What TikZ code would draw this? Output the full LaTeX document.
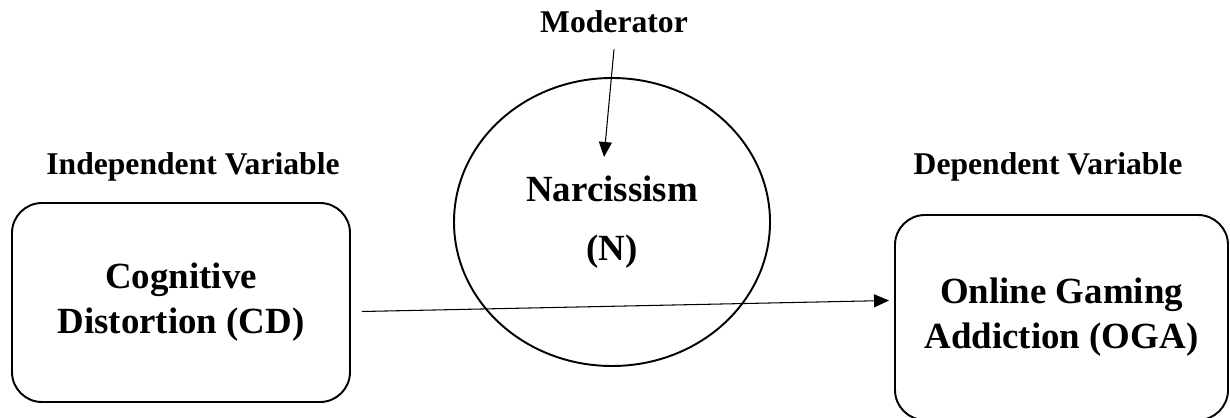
\documentclass[tikz,border=0pt]{standalone}
\usepackage{fontspec}
\setmainfont{Liberation Serif}
\usepackage{tikz}
\usetikzlibrary{shapes.geometric, arrows.meta, positioning}

\tikzset{
  varbox/.style={draw, line width=1.1pt, rounded corners=0.6cm, align=center,
    font=\fontsize{21}{25.5}\selectfont\bfseries},
  modcircle/.style={draw, ellipse, line width=1.1pt, align=center,
    minimum width=6.32cm, minimum height=5.76cm,
    font=\fontsize{21}{34}\selectfont\bfseries},
  heading/.style={font=\fontsize{18}{21}\selectfont\bfseries},
  link/.style={line width=0.6pt, -{Triangle[length=0.3cm, width=0.26cm]}}
}

\begin{document}
\begin{tikzpicture}
  \useasboundingbox (0,0) rectangle (24.6,8.34);

  % --- variables ---
  \node[varbox, minimum width=6.76cm, minimum height=3.98cm] (cd) at (3.62,2.29)
    {Cognitive\\Distortion (CD)};
  \node[varbox, minimum width=6.66cm, minimum height=4.1cm] (oga) at (21.23,1.99)
    {Online Gaming\\Addiction (OGA)};
  \node[modcircle] (narc) at (12.24,3.90) {Narcissism\\(N)};

  % --- headings ---
  \node[heading] (indep) at (3.86,5.0) {Independent Variable};
  \node[heading] (dep) at (20.96,5.0) {Dependent Variable};
  \node[heading] (mod) at (12.28,7.9) {Moderator};

  % --- arrows ---
  \coordinate (modtip) at (12.08,5.2);
  \draw[link] ([yshift=-0.2cm]mod.south) -- (modtip);
  \draw[link] ([xshift=0.22cm, yshift=-0.18cm]cd.east) -- ([xshift=-0.1cm, yshift=0.34cm]oga.west);
\end{tikzpicture}
\end{document}
